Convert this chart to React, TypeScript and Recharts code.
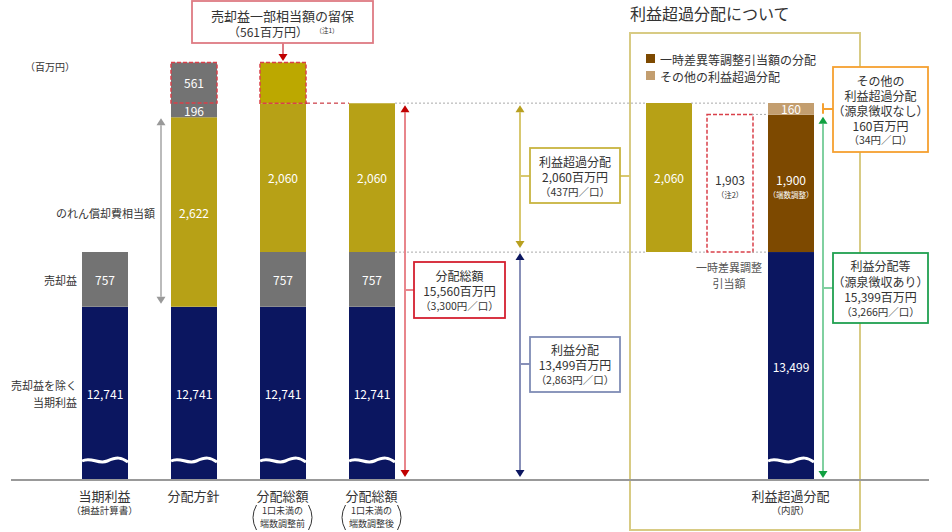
import React from "react";
import { Bar, BarChart, LabelList, XAxis, YAxis } from "recharts";

const FONT = '"Noto Sans CJK JP", "Noto Sans", sans-serif';
const TEXT = "#333333";
const NAVY = "#0b1660";
const GRAY = "#737373";
const GOLD = "#b7a116";
const GOLD_HI = "#bca800";
const BROWN = "#7d4900";
const TAN = "#c39e6f";
const RED_DASH = "#d9404a";

// left block: 当期利益 → 分配総額 (百万円)
const policyCategories = ["当期利益", "分配方針", "分配総額", "分配総額"];
const policyNotes = [["損益計算書"], [], ["1口未満の", "端数調整前"], ["1口未満の", "端数調整後"]];
const baseProfit = [12741, 12741, 12741, 12741];
const saleGain = [757, 0, 757, 757];
const goodwill = [0, 2622, 2060, 2060];
const gainRemainder = [0, 196, 0, 0];
const retainedGain = [0, 561, 0, 0];
const retainedShown = [0, 0, 561, 0];

// right block: 利益超過分配について
const excessCategories = ["", "", "利益超過分配"];
const excessNotes = [[], [], ["内訳"]];
const hiddenBase = [13499, 13499, 0];
const profitDist = [0, 0, 13499];
const excessTotal = [2060, 0, 0];
const tempDiffReserve = [0, 1903, 0];
const tempDiffDist = [0, 0, 1900];
const otherExcess = [0, 0, 160];

// broken axis: the bottom of every bar is cut off
const Y_MIN = 10347;
const Y_MAX = 16500;
const PLOT_TOP = 35;
const PLOT_H = 445;
const AXIS_H = 52;

const yPx = (v: number) => PLOT_TOP + (PLOT_H * (Y_MAX - v)) / (Y_MAX - Y_MIN);
const fmt = (v: number) => v.toLocaleString("en-US");

const policyData = policyCategories.map((name, i) => ({
  key: `p${i}`,
  name,
  base: baseProfit[i],
  gain: saleGain[i],
  goodwill: goodwill[i],
  rest: gainRemainder[i],
  retainedGain: retainedGain[i],
  retainedShown: retainedShown[i],
}));

const excessData = excessCategories.map((name, i) => ({
  key: `e${i}`,
  name,
  hidden: hiddenBase[i],
  profit: profitDist[i],
  excess: excessTotal[i],
  reserve: tempDiffReserve[i],
  adjust: tempDiffDist[i],
  other: otherExcess[i],
}));

function box(p: any) {
  const vb = p.viewBox && p.viewBox.width != null ? p.viewBox : p;
  const top = Math.min(vb.y, vb.y + vb.height);
  const bot = Math.min(Math.max(vb.y, vb.y + vb.height), PLOT_H);
  return { cx: vb.x + vb.width / 2, cy: (top + bot) / 2 };
}

const makeLabel = (color = "#ffffff", note?: string) => (p: any) => {
  const raw = p.value;
  const v = Array.isArray(raw) ? raw[1] - raw[0] : Number(raw);
  if (!v) return null;
  const { cx, cy } = box(p);
  return (
    <g fontFamily={FONT} textAnchor="middle">
      <text x={cx} y={note ? cy - 4 : cy} fill={color} fontSize={12} dominantBaseline="central">
        {fmt(v)}
      </text>
      {note && (
        <text x={cx} y={cy + 11} fill={color} fontSize={7.5} dominantBaseline="central">
          {note}
        </text>
      )}
    </g>
  );
};

function BaseShape(p: any) {
  const { x, y, width, height, fill } = p;
  if (!height || Math.abs(height) < 1) return null;
  const top = Math.min(y, y + height);
  const wy = PLOT_H - 20;
  const w = width;
  return (
    <g>
      <rect x={x} y={top} width={w} height={Math.abs(height)} fill={fill} />
      <path
        d={`M${x},${wy + 1} C${x + w * 0.2},${wy - 4} ${x + w * 0.35},${wy + 5} ${x + w * 0.55},${wy + 1} S${x + w * 0.85},${wy - 3} ${x + w},${wy + 2}`}
        stroke="#ffffff"
        strokeWidth={3}
        fill="none"
      />
    </g>
  );
}

function CategoryTick(p: any) {
  const { x, y, payload, names, notes } = p;
  const i = payload.index;
  const name = names[i];
  const sub: string[] = notes[i];
  if (!name) return null;
  return (
    <g fontFamily={FONT} textAnchor="middle" fill={TEXT}>
      <text x={x} y={y + 15} fontSize={13} dominantBaseline="central">
        {name}
      </text>
      {sub.length === 1 && (
        <text x={x} y={y + 30} fontSize={9.5} dominantBaseline="central">
          （{sub[0]}）
        </text>
      )}
      {sub.length === 2 && (
        <g>
          <text x={x} y={y + 30.5} fontSize={9} dominantBaseline="central">
            {sub[0]}
          </text>
          <text x={x} y={y + 43.5} fontSize={9} dominantBaseline="central">
            {sub[1]}
          </text>
          <path d={`M${x - 26},${y + 25} Q${x - 33},${y + 37.5} ${x - 26},${y + 50}`} stroke={TEXT} fill="none" strokeWidth={1} />
          <path d={`M${x + 26},${y + 25} Q${x + 33},${y + 37.5} ${x + 26},${y + 50}`} stroke={TEXT} fill="none" strokeWidth={1} />
        </g>
      )}
    </g>
  );
}

function VArrow({ x, y1, y2, line, head, up = true, down = true }: any) {
  const h = 7;
  const w = 4.5;
  return (
    <g>
      <line x1={x} x2={x} y1={up ? y1 + h : y1} y2={down ? y2 - h : y2} stroke={line} strokeWidth={2} />
      {up && <polygon points={`${x},${y1} ${x - w},${y1 + h} ${x + w},${y1 + h}`} fill={head} />}
      {down && <polygon points={`${x},${y2} ${x - w},${y2 - h} ${x + w},${y2 - h}`} fill={head} />}
    </g>
  );
}

function NoteBox({ x, y, w, h, stroke, lines }: any) {
  return (
    <g fontFamily={FONT} textAnchor="middle" fill={TEXT}>
      <rect x={x} y={y} width={w} height={h} fill="#ffffff" stroke={stroke} strokeWidth={1.8} />
      {lines.map((l: any, i: number) => (
        <text key={i} x={x + w / 2} y={l[2]} fontSize={l[1]} dominantBaseline="central">
          {l[0]}
        </text>
      ))}
    </g>
  );
}

function Overlay() {
  const totalTop = yPx(baseProfit[3] + saleGain[3] + goodwill[3]);
  const profitTop = yPx(baseProfit[3] + saleGain[3]);
  const axisY = PLOT_TOP + PLOT_H;
  const gwTop = yPx(baseProfit[1] + goodwill[1]);
  const gwBot = yPx(baseProfit[1]);
  const reserveTop = yPx(hiddenBase[1] + tempDiffReserve[1]);
  const adjustTop = yPx(profitDist[2] + tempDiffDist[2]);
  const dotted = { stroke: "#aaaaaa", strokeWidth: 1, strokeDasharray: "2 2" };
  return (
    <svg width={952} height={532} style={{ position: "absolute", left: 0, top: 0, pointerEvents: "none" }}>
      {/* right panel frame */}
      <rect x={630} y={33} width={230} height={497} fill="none" stroke="#d8cb84" strokeWidth={2} />
      <text x={630} y={13} fontFamily={FONT} fontSize={16} fill={TEXT} dominantBaseline="central">
        利益超過分配について
      </text>
      <rect x={646} y={54} width={9} height={9} fill={BROWN} />
      <text x={660} y={59} fontFamily={FONT} fontSize={12} fill={TEXT} dominantBaseline="central">
        一時差異等調整引当額の分配
      </text>
      <rect x={646} y={71} width={9} height={9} fill={TAN} />
      <text x={660} y={76} fontFamily={FONT} fontSize={12} fill={TEXT} dominantBaseline="central">
        その他の利益超過分配
      </text>

      {/* baseline */}
      <line x1={11} x2={929} y1={axisY} y2={axisY} stroke="#999999" strokeWidth={2} />

      {/* guide lines */}
      <line x1={306} x2={349} y1={totalTop} y2={totalTop} stroke="#c0101c" strokeWidth={1} strokeDasharray="4 3" />
      <line x1={395} x2={645} y1={totalTop} y2={totalTop} {...dotted} />
      <line x1={691} x2={767} y1={totalTop} y2={totalTop} {...dotted} />
      <line x1={395} x2={645} y1={profitTop} y2={profitTop} {...dotted} />
      <line x1={691} x2={706} y1={profitTop} y2={profitTop} {...dotted} />
      <line x1={752} x2={767} y1={profitTop} y2={profitTop} {...dotted} />
      <line x1={752} x2={767} y1={reserveTop} y2={reserveTop} {...dotted} />

      {/* unit and row labels */}
      <g fontFamily={FONT} fill={TEXT} dominantBaseline="central">
        <text x={25} y={66} fontSize={10}>（百万円）</text>
        <text x={155} y={213} fontSize={11} textAnchor="end">のれん償却費相当額</text>
        <text x={77} y={280} fontSize={11} textAnchor="end">売却益</text>
        <text x={77} y={385} fontSize={11} textAnchor="end">売却益を除く</text>
        <text x={77} y={402} fontSize={11} textAnchor="end">当期利益</text>
        <text x={729} y={267} fontSize={11} textAnchor="middle" fill="#555555">一時差異調整</text>
        <text x={729} y={283} fontSize={11} textAnchor="middle" fill="#555555">引当額</text>
      </g>

      {/* arrows */}
      <VArrow x={161} y1={gwTop + 1} y2={gwBot - 3} line="#bbbbbb" head="#999999" />
      <VArrow x={405} y1={totalTop + 2} y2={axisY - 3} line="#e8868c" head="#c00000" />
      <VArrow x={520} y1={totalTop + 2} y2={profitTop - 4} line="#d8c870" head="#b8a020" />
      <VArrow x={520} y1={profitTop + 1} y2={axisY - 3} line="#8890b8" head={NAVY} />
      <VArrow x={823} y1={adjustTop + 2} y2={axisY - 2} line="#80d0a0" head="#10a040" />
      <line x1={823} x2={823} y1={totalTop} y2={adjustTop - 1} stroke="#f5a030" strokeWidth={2} />
      <line x1={283} x2={283} y1={43} y2={56} stroke="#de7b83" strokeWidth={2} />
      <polygon points={`283,61 278.5,54 287.5,54`} fill="#c00000" />

      {/* connectors */}
      <line x1={405} x2={414} y1={290} y2={290} stroke="#e8868c" strokeWidth={2} />
      <line x1={520} x2={530} y1={176} y2={176} stroke="#d8c870" strokeWidth={2} />
      <line x1={620} x2={630} y1={176} y2={176} stroke="#d8c870" strokeWidth={2} />
      <line x1={520} x2={530} y1={364} y2={364} stroke="#8890b8" strokeWidth={2} />
      <line x1={823} x2={833} y1={109} y2={109} stroke="#f5a030" strokeWidth={2} />
      <line x1={823} x2={833} y1={288} y2={288} stroke="#80d0a0" strokeWidth={2} />

      {/* callouts */}
      <NoteBox x={192} y={1} w={181} h={42} stroke="#de7b83" lines={[["売却益一部相当額の留保", 13, 15]]} />
      <text x={268} y={31} fontFamily={FONT} fontSize={12} fill={TEXT} textAnchor="middle" dominantBaseline="central">
        （561百万円）
      </text>
      <text x={327} y={29.5} fontFamily={FONT} fontSize={6.5} fill={TEXT} textAnchor="middle" dominantBaseline="central">
        （注1）
      </text>
      <NoteBox
        x={414}
        y={262}
        w={91}
        h={56}
        stroke="#d42030"
        lines={[
          ["分配総額", 12, 275],
          ["15,560百万円", 12, 290.5],
          ["（3,300円／口）", 10.5, 305],
        ]}
      />
      <NoteBox
        x={530}
        y={148}
        w={90}
        h={55}
        stroke="#c8b440"
        lines={[
          ["利益超過分配", 12, 161.5],
          ["2,060百万円", 12, 176.5],
          ["（437円／口）", 10.5, 191],
        ]}
      />
      <NoteBox
        x={530}
        y={337}
        w={90}
        h={55}
        stroke="#7f8cb5"
        lines={[
          ["利益分配", 12, 349.5],
          ["13,499百万円", 12, 364.5],
          ["（2,863円／口）", 10.5, 379],
        ]}
      />
      <NoteBox
        x={833}
        y={67}
        w={95}
        h={85}
        stroke="#f5a030"
        lines={[
          ["その他の", 12, 80],
          ["利益超過分配", 12, 95],
          ["（源泉徴収なし）", 12, 110],
          ["160百万円", 12, 125],
          ["（34円／口）", 10.5, 139.5],
        ]}
      />
      <NoteBox
        x={833}
        y={253}
        w={95}
        h={70}
        stroke="#20a050"
        lines={[
          ["利益分配等", 12, 265.5],
          ["（源泉徴収あり）", 12, 281],
          ["15,399百万円", 12, 296.5],
          ["（3,266円／口）", 10.5, 311],
        ]}
      />
    </svg>
  );
}

export default function App() {
  const dash = { stroke: RED_DASH, strokeWidth: 1.5, strokeDasharray: "4 2" };
  return (
    <div style={{ position: "absolute", left: 0, top: 0, width: 952, height: 532, background: "#ffffff", fontFamily: FONT }}>
      <div style={{ position: "absolute", left: 60, top: PLOT_TOP }}>
        <BarChart width={356} height={PLOT_H + AXIS_H} data={policyData} margin={{ top: 0, right: 0, bottom: 0, left: 0 }} barSize={46}>
          <YAxis hide type="number" domain={[Y_MIN, Y_MAX]} allowDataOverflow />
          <XAxis
            dataKey="key"
            axisLine={false}
            tickLine={false}
            tickSize={0}
            tickMargin={0}
            height={AXIS_H}
            interval={0}
            tick={(p: any) => <CategoryTick {...p} names={policyCategories} notes={policyNotes} />}
          />
          <Bar dataKey="base" stackId="s" fill={NAVY} isAnimationActive={false} shape={(p: any) => <BaseShape {...p} />}>
            <LabelList dataKey="base" content={makeLabel()} />
          </Bar>
          <Bar dataKey="gain" stackId="s" fill={GRAY} isAnimationActive={false}>
            <LabelList dataKey="gain" content={makeLabel()} />
          </Bar>
          <Bar dataKey="goodwill" stackId="s" fill={GOLD} isAnimationActive={false}>
            <LabelList dataKey="goodwill" content={makeLabel()} />
          </Bar>
          <Bar dataKey="rest" stackId="s" fill={GRAY} isAnimationActive={false}>
            <LabelList dataKey="rest" content={makeLabel()} />
          </Bar>
          <Bar dataKey="retainedGain" stackId="s" fill={GRAY} {...dash} isAnimationActive={false}>
            <LabelList dataKey="retainedGain" content={makeLabel()} />
          </Bar>
          <Bar dataKey="retainedShown" stackId="s" fill={GOLD_HI} {...dash} isAnimationActive={false} />
        </BarChart>
      </div>

      <div style={{ position: "absolute", left: 637.5, top: PLOT_TOP }}>
        <BarChart width={223} height={PLOT_H + AXIS_H} data={excessData} margin={{ top: 0, right: 40, bottom: 0, left: 0 }} barSize={46}>
          <YAxis hide type="number" domain={[Y_MIN, Y_MAX]} allowDataOverflow />
          <XAxis
            dataKey="key"
            axisLine={false}
            tickLine={false}
            tickSize={0}
            tickMargin={0}
            height={AXIS_H}
            interval={0}
            tick={(p: any) => <CategoryTick {...p} names={excessCategories} notes={excessNotes} />}
          />
          <Bar dataKey="hidden" stackId="s" fill="transparent" isAnimationActive={false} />
          <Bar dataKey="profit" stackId="s" fill={NAVY} isAnimationActive={false} shape={(p: any) => <BaseShape {...p} />}>
            <LabelList dataKey="profit" content={makeLabel()} />
          </Bar>
          <Bar dataKey="excess" stackId="s" fill={GOLD} isAnimationActive={false}>
            <LabelList dataKey="excess" content={makeLabel()} />
          </Bar>
          <Bar dataKey="reserve" stackId="s" fill="#ffffff" {...dash} isAnimationActive={false}>
            <LabelList dataKey="reserve" content={makeLabel(TEXT, "（注2）")} />
          </Bar>
          <Bar dataKey="adjust" stackId="s" fill={BROWN} isAnimationActive={false}>
            <LabelList dataKey="adjust" content={makeLabel("#ffffff", "（端数調整）")} />
          </Bar>
          <Bar dataKey="other" stackId="s" fill={TAN} isAnimationActive={false}>
            <LabelList dataKey="other" content={makeLabel()} />
          </Bar>
        </BarChart>
      </div>

      <Overlay />
    </div>
  );
}
